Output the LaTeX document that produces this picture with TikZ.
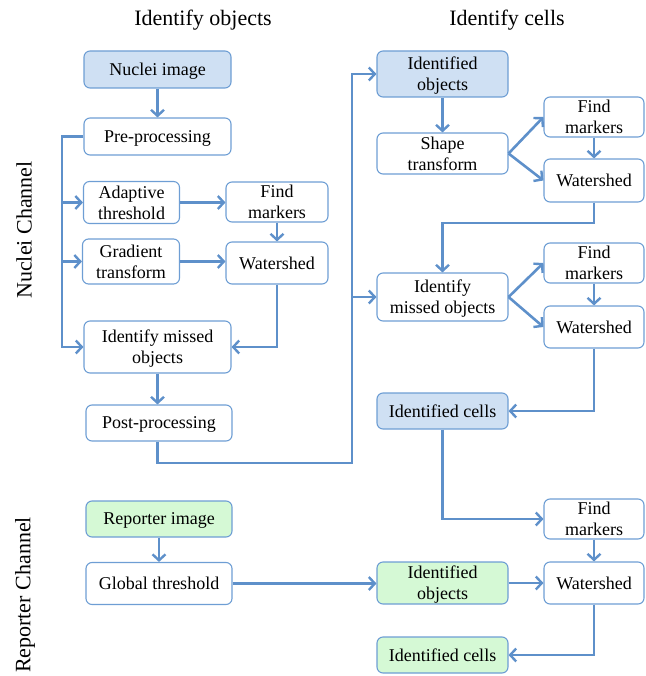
\documentclass[tikz,border=0pt]{standalone}
\usepackage{fontspec}
\setmainfont{Liberation Serif}
\newfontfamily\nodefont{Liberation Serif}
\usetikzlibrary{arrows.meta}
\definecolor{conn}{RGB}{94,144,202}
\definecolor{bord}{RGB}{110,158,212}
\definecolor{bfill}{RGB}{207,224,243}
\definecolor{gfill}{RGB}{213,249,213}
\tikzset{
  box/.style={draw=bord, line width=1.1pt, rounded corners=6pt, fill=white,
    inner sep=0pt, align=center, text depth=0pt,
    font=\nodefont\fontsize{18}{21}\selectfont},
  bluebox/.style={box, fill=bfill},
  greenbox/.style={box, fill=gfill},
  conn/.style={draw=conn, line width=2.6pt, line join=miter,
    -{Straight Barb[length=6pt,width=13pt,line width=2.4pt]}},
  title/.style={font=\nodefont\fontsize{22}{26}\selectfont},
}
\begin{document}
\begin{tikzpicture}[x=1pt,y=-1pt]
\useasboundingbox (0,0) rectangle (645,676);
% titles
\node[title] (t1) at (203,20) {Identify objects};
\node[title] (t2) at (507,20) {Identify cells};
\node[title, rotate=90] (c1) at (24,230) {Nuclei Channel};
\node[title, rotate=90] (c2) at (25,595) {Reporter Channel};
% left column
\node[bluebox, minimum width=147, minimum height=37] (ni) at (157.5,69.5) {Nuclei image};
\node[box, minimum width=147, minimum height=37] (pre) at (157.5,136.5) {Pre-processing};
\node[box, minimum width=96, minimum height=42] (adt) at (131.5,202.5) {Adaptive\\threshold};
\node[box, minimum width=102, minimum height=40] (fm1) at (277,202) {Find\\markers};
\node[box, minimum width=97, minimum height=45] (grt) at (131,261.5) {Gradient\\transform};
\node[box, minimum width=102, minimum height=42] (ws1) at (277,263) {Watershed};
\node[box, minimum width=147, minimum height=52] (imo1) at (157.5,347) {Identify missed\\objects};
\node[box, minimum width=146, minimum height=36] (post) at (159,423) {Post-processing};
% right column
\node[bluebox, minimum width=131, minimum height=46] (io1) at (442.5,74) {Identified\\objects};
\node[box, minimum width=131, minimum height=41] (st) at (442.5,153.5) {Shape\\transform};
\node[box, minimum width=100, minimum height=40] (fm2) at (594,117) {Find\\markers};
\node[box, minimum width=100, minimum height=43] (ws2) at (594,180.5) {Watershed};
\node[box, minimum width=131, minimum height=48] (imo2) at (442.5,297) {Identify\\missed objects};
\node[box, minimum width=100, minimum height=40] (fm3) at (594,263) {Find\\markers};
\node[box, minimum width=100, minimum height=42] (ws3) at (594,327) {Watershed};
\node[bluebox, minimum width=131, minimum height=36] (ic1) at (442.5,411) {Identified cells};
\node[box, minimum width=100, minimum height=40] (fm4) at (594,519) {Find\\markers};
\node[box, minimum width=100, minimum height=42] (ws4) at (594,583) {Watershed};
% reporter
\node[greenbox, minimum width=146, minimum height=36] (ri) at (159,519) {Reporter image};
\node[box, minimum width=146, minimum height=42] (gt) at (159,583.5) {Global threshold};
\node[greenbox, minimum width=131, minimum height=42] (io2) at (442.5,583) {Identified\\objects};
\node[greenbox, minimum width=131, minimum height=36] (ic2) at (442.5,655) {Identified cells};
% helper coordinates
\coordinate (bx) at (62,0);
\coordinate (rb) at (352,463);
\coordinate (k2) at (442.5,223);
% connectors left
\draw[conn] (ni) -- (pre);
\draw[conn] (pre.west) -| (bx |- imo1.west) -- (imo1.west);
\draw[conn] (bx |- adt.west) -- (adt.west);
\draw[conn] (bx |- grt.west) -- (grt.west);
\draw[conn] (adt.east) -- (fm1.west |- adt.east);
\draw[conn] (grt.east) -- (ws1.west |- grt.east);
\draw[conn] (fm1) -- (ws1);
\draw[conn] (ws1.south) |- (imo1.east);
\draw[conn] (imo1.south) -- (imo1.south |- post.north);
\draw[conn] (imo1.south |- post.south) |- (rb) |- (io1.west);
\draw[conn] (rb |- imo2.west) -- (imo2.west);
% connectors right
\draw[conn] (io1) -- (st);
\draw[conn] (st.east) -- (fm2.west);
\draw[conn] (st.east) -- (ws2.west);
\draw[conn] (fm2) -- (ws2);
\draw[conn] (ws2.south) |- (k2) -- (imo2.north);
\draw[conn] (imo2.east) -- (fm3.west);
\draw[conn] (imo2.east) -- (ws3.west);
\draw[conn] (fm3) -- (ws3);
\draw[conn] (ws3.south) |- (ic1.east);
\draw[conn] (ic1.south) |- (fm4.west);
\draw[conn] (fm4) -- (ws4);
\draw[conn] (ws4.south) |- (ic2.east);
% reporter connectors
\draw[conn] (ri) -- (gt);
\draw[conn] (gt.east) -- (io2.west |- gt.east);
\draw[conn] (io2.east) -- (ws4.west |- io2.east);
\end{tikzpicture}
\end{document}
